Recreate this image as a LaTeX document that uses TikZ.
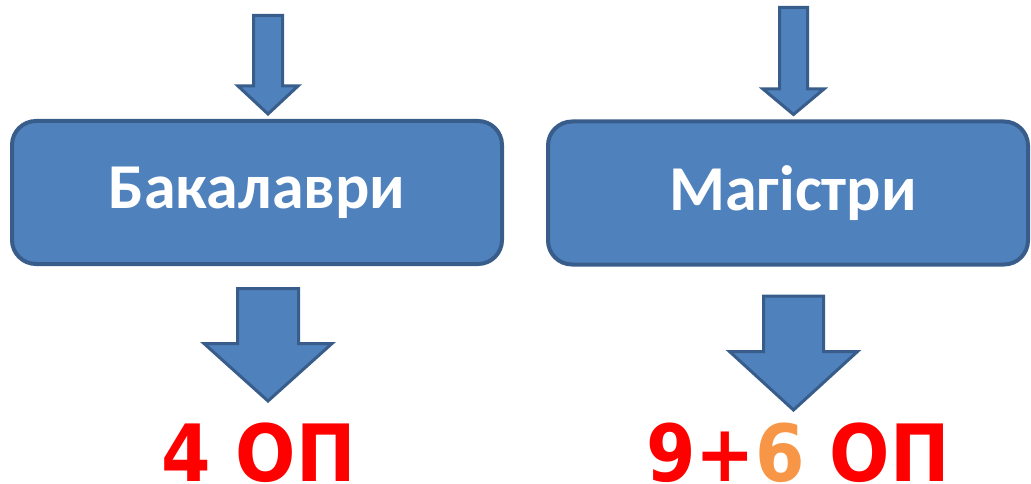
\documentclass[tikz,border=0pt]{standalone}
\usepackage{fontspec}
\setmainfont{Carlito}
\newfontfamily\opfont{DejaVu Sans Condensed}
\usetikzlibrary{positioning,calc}

\definecolor{boxblue}{HTML}{4F81BD}
\definecolor{boxline}{HTML}{385D8A}
\definecolor{opred}{HTML}{FF0000}
\definecolor{oporange}{HTML}{F79646}

% start, tip, shaft half width, head half width, head length
\newcommand{\blockarrow}[5]{%
  \draw[blockarr] ($(#1)+(-#3,0)$) -- ($(#2)+(-#3,-#5)$) -- ($(#2)+(-#4,-#5)$) -- (#2)
    -- ($(#2)+(#4,-#5)$) -- ($(#2)+(#3,-#5)$) -- ($(#1)+(#3,0)$) -- cycle;}

\begin{document}
\begin{tikzpicture}[
    x=1pt, y=-1pt,
    stagebox/.style={draw=boxline, line width=4pt, fill=boxblue, rounded corners=24pt,
        text=white, minimum height=143pt, font=\fontsize{64}{70}\selectfont\bfseries},
    oplabel/.style={text=opred, inner sep=0pt, font=\opfont\fontsize{79}{86}\selectfont\bfseries},
    blockarr/.style={draw=boxline, line width=3pt, fill=boxblue, line join=miter}
]
\useasboundingbox (0,0) rectangle (1031,484);

% blocks
\node[stagebox, minimum width=490pt] (bak) at (257,192.5) {Бакалаври};
\node[stagebox, minimum width=480pt] (mag) at (788,193) {\hspace*{10pt}Магістри};

% numbers
\node[oplabel, anchor=base] (bakop) at (258.5,481.5) {4 ОП};
\node[oplabel, anchor=base] (magop) at (798,481.5) {9+{\color{oporange}6} ОП};

% arrow ends
\coordinate (bakin) at (268,15.5);
\coordinate (magin) at (793.5,7.5);
\coordinate (baktip) at ($(bakin |- bak.north)+(0,-5)$);
\coordinate (magtip) at ($(magin |- mag.north)+(0,-5)$);
\coordinate (bakout) at ($(bakin |- bak.south)+(0,22.5)$);
\coordinate (magout) at ($(magin |- mag.south)+(0,29.5)$);
\coordinate (bakend) at (bakin |- 0,401);
\coordinate (magend) at (magin |- 0,410);

% arrows
\blockarrow{bakin}{baktip}{14.5}{30}{28}
\blockarrow{magin}{magtip}{14}{30.5}{25.5}
\blockarrow{bakout}{bakend}{30.5}{64}{57.5}
\blockarrow{magout}{magend}{30}{64}{58.5}

\end{tikzpicture}
\end{document}
